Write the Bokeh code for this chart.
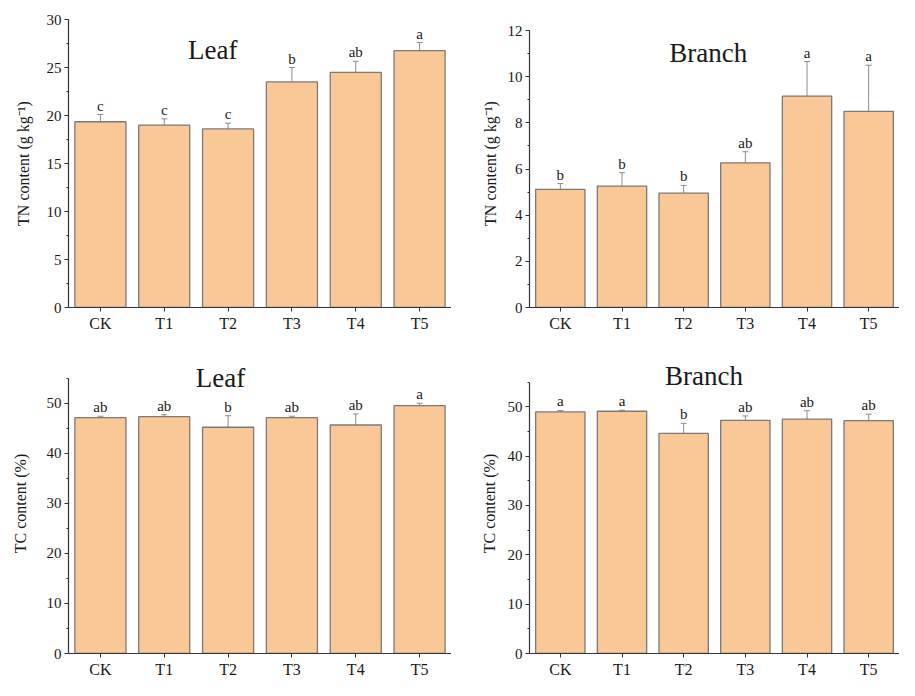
from bokeh.plotting import figure
from bokeh.models import ColumnDataSource, Whisker, TeeHead, Label, SingleIntervalTicker, Range1d, FactorRange
from bokeh.layouts import column, row
from bokeh.embed import file_html
from bokeh.resources import INLINE
from bokeh.core.properties import value

categories = ["CK", "T1", "T2", "T3", "T4", "T5"]

tn_leaf = [19.35, 19.0, 18.6, 23.5, 24.5, 26.75]
tn_leaf_err = [0.75, 0.65, 0.6, 1.5, 1.15, 0.85]
tn_leaf_letters = ["c", "c", "c", "b", "ab", "a"]

tn_branch = [5.12, 5.26, 4.96, 6.27, 9.16, 8.5]
tn_branch_err = [0.25, 0.58, 0.33, 0.48, 1.5, 2.0]
tn_branch_letters = ["b", "b", "b", "ab", "a", "a"]

tc_leaf = [47.1, 47.3, 45.2, 47.1, 45.65, 49.5]
tc_leaf_err = [0.3, 0.4, 2.3, 0.3, 2.2, 0.5]
tc_leaf_letters = ["ab", "ab", "b", "ab", "ab", "a"]

tc_branch = [48.95, 49.1, 44.6, 47.25, 47.5, 47.2]
tc_branch_err = [0.3, 0.2, 2.05, 0.9, 1.7, 1.3]
tc_branch_letters = ["a", "a", "b", "ab", "ab", "ab"]

FONT = "Liberation Serif"
BAR_FILL = "#FAC796"
BAR_LINE = "#7a7a7a"
ERR_COLOR = "#8c8c8c"
AXIS_COLOR = "#333333"
TEXT_COLOR = "#1a1a1a"


def panel(vals, errs, letters, title, ylabel, yaxis_max, yrange_end, interval,
          title_x, title_y, width, height, bl, bt, bb, label_standoff):
    p = figure(x_range=FactorRange(*categories, range_padding=0),
               y_range=Range1d(0, yrange_end),
               width=width, height=height, output_backend="svg",
               toolbar_location=None, min_border=0)
    p.min_border_left = bl
    p.min_border_top = bt
    p.min_border_bottom = bb
    p.min_border_right = 0
    p.outline_line_color = None
    p.grid.grid_line_color = None
    p.background_fill_color = "white"
    p.border_fill_color = "white"
    p.x_range.factor_padding = 0

    src = ColumnDataSource(dict(
        cats=categories, vals=vals,
        upper=[v + e for v, e in zip(vals, errs)],
        lower=[v - e for v, e in zip(vals, errs)],
        letters=letters))

    p.vbar(x="cats", top="vals", width=0.8, source=src,
           fill_color=BAR_FILL, line_color=BAR_LINE, line_width=1.3)

    w = Whisker(base="cats", upper="upper", lower="lower", source=src,
                line_color=ERR_COLOR, line_width=1,
                upper_head=TeeHead(size=6, line_color=ERR_COLOR, line_width=1),
                lower_head=TeeHead(size=6, line_color=ERR_COLOR, line_width=1))
    p.add_layout(w)

    p.text(x="cats", y="upper", text="letters", source=src,
           text_align="center", text_baseline="bottom", y_offset=-1,
           text_font=value(FONT), text_font_size="15px", text_color=TEXT_COLOR)

    p.add_layout(Label(x=title_x, y=title_y, text=title, text_align="center",
                       text_baseline="alphabetic", text_font=FONT,
                       text_font_size="27px", text_color=TEXT_COLOR))

    p.yaxis.ticker = SingleIntervalTicker(interval=interval, num_minor_ticks=2)
    p.yaxis.bounds = (0, yaxis_max)
    p.yaxis.axis_label = ylabel
    p.yaxis.axis_label_standoff = label_standoff
    p.yaxis.axis_label_text_font = FONT
    p.yaxis.axis_label_text_font_style = "normal"
    p.yaxis.axis_label_text_font_size = "16px"
    p.yaxis.axis_label_text_color = TEXT_COLOR

    for ax in (p.xaxis, p.yaxis):
        ax.axis_line_color = AXIS_COLOR
        ax.axis_line_width = 1.2
        ax.major_tick_line_color = AXIS_COLOR
        ax.minor_tick_line_color = AXIS_COLOR
        ax.major_tick_in = 0
        ax.major_tick_out = 4
        ax.minor_tick_in = 0
        ax.minor_tick_out = 2
        ax.major_label_text_font = FONT
        ax.major_label_text_color = TEXT_COLOR

    p.yaxis.major_label_text_font_size = "15px"
    p.yaxis.major_label_standoff = 3
    p.xaxis.major_label_text_font_size = "16px"
    p.xaxis.major_label_standoff = 3
    return p


p1 = panel(tn_leaf, tn_leaf_err, tn_leaf_letters, "Leaf", "TN content (g kg\u207B\u00B9)",
           30, 30, 5, 2.26, 26.8, 451, 343, 68, 19, 36, 12)
p2 = panel(tn_branch, tn_branch_err, tn_branch_letters, "Branch", "TN content (g kg\u207B\u00B9)",
           12, 12.48, 2, 2.9, 11.03, 448, 343, 78, 19, 36, 6)
p3 = panel(tc_leaf, tc_leaf_err, tc_leaf_letters, "Leaf", "TC content (%)",
           55, 59.93, 10, 2.38, 55.0, 451, 337, 68, 10, 23, 15)
p4 = panel(tc_branch, tc_branch_err, tc_branch_letters, "Branch", "TC content (%)",
           55, 60.8, 10, 2.83, 56.2, 448, 337, 78, 10, 23, 7)

layout = column(row(p1, p2), row(p3, p4))
open("out.html", "w").write(file_html(layout, INLINE))
